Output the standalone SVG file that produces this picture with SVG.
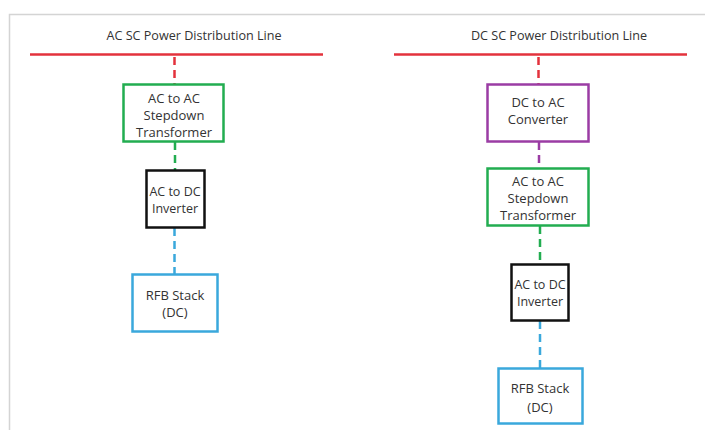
<svg xmlns="http://www.w3.org/2000/svg" width="705" height="430" viewBox="0 0 705 430">
  <style>
    .frame { stroke: #d4d4d4; stroke-width: 1.5; fill: none; }
    .bus { stroke: #e3323c; stroke-width: 2.5; fill: none; }
    .box { fill: #ffffff; stroke-width: 2.5; }
    .link { stroke-width: 2.5; stroke-dasharray: 8 5; fill: none; }
    .red { stroke: #e3323c; }
    .green { stroke: #22ad50; }
    .purple { stroke: #9b3ca4; }
    .blue { stroke: #3aa8dc; }
    .black { stroke: #111111; }
    text { font-family: "Open Sans", "Liberation Sans", sans-serif; font-size: 13px; fill: #333333; text-anchor: middle; }
    .title { font-size: 12.6px; }
    .tight { font-size: 12.5px; }
  </style>
  <rect width="705" height="430" fill="#ffffff"/>
  <!-- page frame edges -->
  <path class="frame" d="M9.5 430 V14.5 H705"/>

  <!-- AC side -->
  <g id="ac-line">
    <text class="title" x="194" y="40">AC SC Power Distribution Line</text>
    <line class="bus" x1="30" y1="54.5" x2="323" y2="54.5"/>
  </g>

  <!-- DC side -->
  <g id="dc-line">
    <text class="title" x="559" y="40">DC SC Power Distribution Line</text>
    <line class="bus" x1="394" y1="54.5" x2="687" y2="54.5"/>
  </g>

  <g id="connectors">
    <line class="link red" x1="174.5" y1="57" x2="174.5" y2="84"/>
    <line class="link green" x1="175" y1="142" x2="175" y2="170"/>
    <line class="link blue" x1="174.5" y1="228" x2="174.5" y2="274"/>
    <line class="link red" x1="538.5" y1="57" x2="538.5" y2="84"/>
    <line class="link purple" x1="539" y1="142" x2="539" y2="168"/>
    <line class="link green" x1="540" y1="226" x2="540" y2="264"/>
    <line class="link blue" x1="540" y1="321" x2="540" y2="368"/>
  </g>

  <g id="ac-transformer">
    <rect class="box green" x="123.5" y="84.5" width="100" height="57"/>
    <text x="174" y="103">AC to AC</text>
    <text x="174" y="120">Stepdown</text>
    <text x="174" y="137">Transformer</text>
  </g>
  <g id="ac-inverter">
    <rect class="box black" x="146.5" y="170.5" width="58" height="57"/>
    <text class="tight" x="175" y="196">AC to DC</text>
    <text class="tight" x="175" y="213">Inverter</text>
  </g>
  <g id="ac-stack">
    <rect class="box blue" x="132.5" y="274.5" width="85" height="57"/>
    <text x="175" y="300">RFB Stack</text>
    <text x="175" y="317">(DC)</text>
  </g>

  <g id="dc-converter">
    <rect class="box purple" x="487.5" y="84.5" width="101" height="57"/>
    <text x="538" y="107">DC to AC</text>
    <text x="538" y="124">Converter</text>
  </g>
  <g id="dc-transformer">
    <rect class="box green" x="487.5" y="168.5" width="101" height="57"/>
    <text x="538" y="186">AC to AC</text>
    <text x="538" y="203">Stepdown</text>
    <text x="538" y="220">Transformer</text>
  </g>
  <g id="dc-inverter">
    <rect class="box black" x="511.5" y="264.5" width="57" height="56"/>
    <text class="tight" x="540" y="289">AC to DC</text>
    <text class="tight" x="540" y="306">Inverter</text>
  </g>
  <g id="dc-stack">
    <rect class="box blue" x="498.5" y="368.5" width="84" height="55"/>
    <text x="540" y="393">RFB Stack</text>
    <text x="540" y="412">(DC)</text>
  </g>
</svg>
